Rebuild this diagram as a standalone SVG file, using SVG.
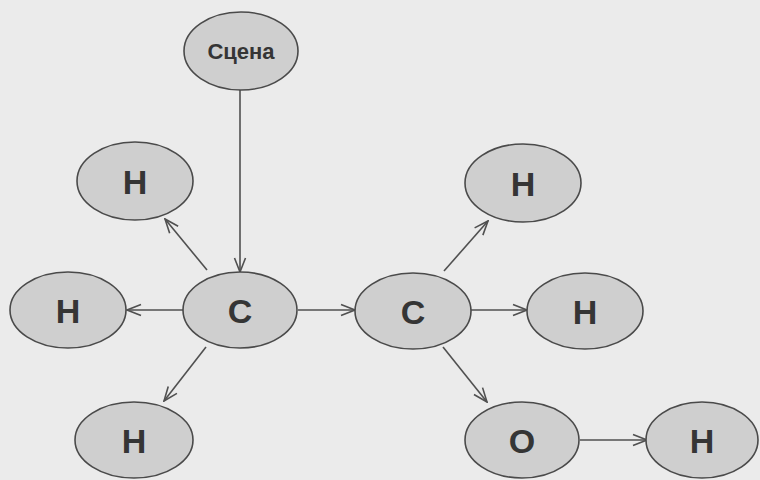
<svg xmlns="http://www.w3.org/2000/svg" width="760" height="480" viewBox="0 0 760 480">
<defs>
<style>
.n ellipse{fill:#cfcfcf;stroke:#4a4a4a;stroke-width:1.6}
.n text{font-family:"Liberation Sans",Arial,sans-serif;font-weight:bold;fill:#353535;text-anchor:middle;dominant-baseline:central}
.c line{stroke:#505050;stroke-width:1.6;marker-end:url(#ah)}
</style>
<marker id="ah" viewBox="0 0 16 14" refX="15" refY="7" markerWidth="16" markerHeight="14" markerUnits="userSpaceOnUse" orient="auto">
<path d="M1,1.5 L15,7 L1,12.5" fill="none" stroke="#505050" stroke-width="1.6"/>
</marker>
</defs>
<rect width="760" height="480" fill="#ebebeb"/>
<g class="c">
<line x1="240" y1="90" x2="240" y2="272"/>
<line x1="207" y1="270" x2="165" y2="219"/>
<line x1="183" y1="310" x2="127" y2="310"/>
<line x1="298" y1="310" x2="355" y2="310"/>
<line x1="206" y1="347" x2="164" y2="401"/>
<line x1="444" y1="271" x2="488" y2="221"/>
<line x1="471" y1="310" x2="527" y2="310"/>
<line x1="443" y1="347" x2="487" y2="402"/>
<line x1="580" y1="440" x2="647" y2="440"/>
</g>
<g id="scene" class="n"><ellipse cx="241" cy="51" rx="57" ry="39"/><text x="241" y="51" font-size="22">Сцена</text></g>
<g id="h1" class="n"><ellipse cx="135" cy="181" rx="58" ry="39"/><text x="135" y="182" font-size="34">H</text></g>
<g id="h2" class="n"><ellipse cx="68" cy="310" rx="58" ry="38"/><text x="68" y="311" font-size="34">H</text></g>
<g id="c1" class="n"><ellipse cx="240" cy="310" rx="57" ry="38"/><text x="240" y="311" font-size="34">C</text></g>
<g id="c2" class="n"><ellipse cx="413" cy="311" rx="58" ry="38"/><text x="413" y="312" font-size="34">C</text></g>
<g id="h3" class="n"><ellipse cx="523" cy="183" rx="58" ry="39"/><text x="523" y="184" font-size="34">H</text></g>
<g id="h4" class="n"><ellipse cx="585" cy="311" rx="58" ry="38"/><text x="585" y="312" font-size="34">H</text></g>
<g id="h5" class="n"><ellipse cx="134" cy="440" rx="59" ry="38"/><text x="134" y="441" font-size="34">H</text></g>
<g id="o" class="n"><ellipse cx="522" cy="440" rx="57" ry="38"/><text x="522" y="441" font-size="34">O</text></g>
<g id="h6" class="n"><ellipse cx="702" cy="440" rx="56" ry="38"/><text x="702" y="441" font-size="34">H</text></g>
</svg>
